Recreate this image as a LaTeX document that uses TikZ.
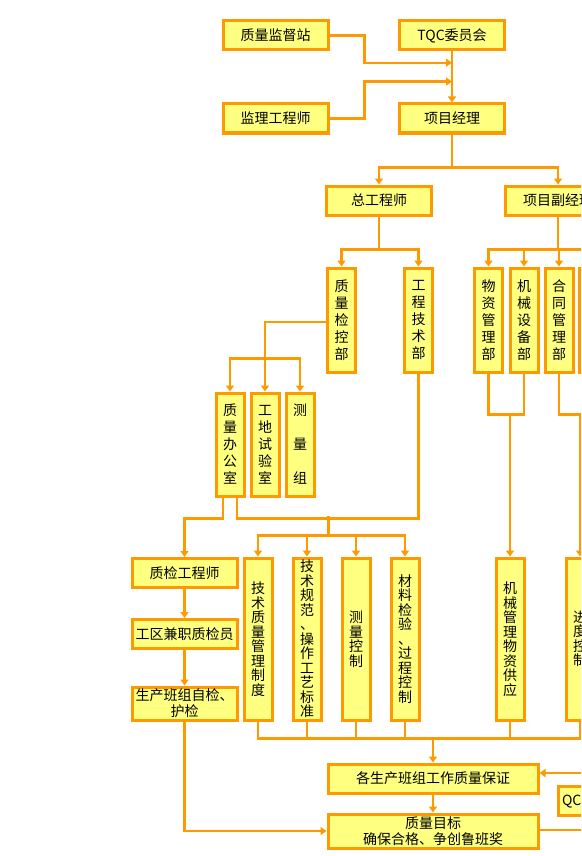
\documentclass[tikz,border=0pt]{standalone}
\usepackage{fontspec}
\newfontfamily\cjk{Noto Sans CJK SC}
\usetikzlibrary{arrows.meta,calc}
\definecolor{cOr}{HTML}{FF9900}
\definecolor{cYe}{HTML}{FFFF80}
\tikzset{
  hbox/.style={draw=cOr,fill=cYe,line width=3pt,minimum width=105pt,
              minimum height=29pt,inner sep=0pt,align=center,
              font=\cjk\fontsize{14}{16}\selectfont},
  vtop/.style={hbox,minimum width=28pt,minimum height=104pt,
              font=\cjk\fontsize{14}{17}\selectfont},
  vbot/.style={hbox,minimum width=28pt,minimum height=162pt,
              font=\cjk\fontsize{14}{14.5}\selectfont},
  link/.style={draw=cOr,line width=2.4pt},
  arr/.style={link,-{Triangle[length=6pt,width=8pt]}},
}

\begin{document}
\begin{tikzpicture}[x=1pt,y=-1pt]
  \useasboundingbox (0,0) rectangle (581,856);
  \clip (0,0) rectangle (581,856);
  % top level
  \node[hbox] (jdz) at (275.5,35.5) {质量监督站};
  \node[hbox] (tqc) at (452,35.5) {TQC委员会};
  \node[hbox] (jl) at (275.5,118.5) {监理工程师};
  \node[hbox] (xm) at (452,118.5) {项目经理};
  \node[hbox] (zgc) at (379,200.5) {总工程师};
  \node[hbox] (fjl) at (558,200.5) {项目副经理};
  % departments
  \node[vtop] (zj) at (341.5,320) {质\\量\\检\\控\\部};
  \node[vtop] (js) at (418.5,320) {工\\程\\技\\术\\部};
  \node[vtop] (wz) at (488.5,320) {物\\资\\管\\理\\部};
  \node[vtop] (jx) at (524,320) {机\\械\\设\\备\\部};
  \node[vtop] (ht) at (559,320) {合\\同\\管\\理\\部};
  \node[vtop] (x4) at (593.5,320) {};
  \node[vtop,minimum height=103pt] (bg) at (230,444.5) {质\\量\\办\\公\\室};
  \node[vtop,minimum height=103pt] (sy) at (265,444.5) {工\\地\\试\\验\\室};
  \node[vtop,minimum height=103pt] (cl) at (300,444.5) {测\\[17pt]量\\[17pt]组};
  % left column
  \node[hbox] (zgs) at (184.5,573) {质检工程师};
  \node[hbox] (jz) at (184.5,634) {工区兼职质检员};
  \node[hbox,minimum height=33pt] (bz) at (184.5,703.5) {生产班组自检、\\护检};
  % bottom rows
  \node[vbot] (zd) at (258,639) {技\\术\\质\\量\\管\\理\\制\\度};
  \node[vbot] (gf) at (307,639) {技\\术\\规\\范\\、\\操\\作\\工\\艺\\标\\准};
  \node[vbot] (ck) at (356,639) {测\\量\\控\\制};
  \node[vbot] (cj) at (405,639) {材\\料\\检\\验\\、\\过\\程\\控\\制};
  \node[vbot] (gy) at (510,639) {机\\械\\管\\理\\物\\资\\供\\应};
  \node[vbot] (jd) at (580,639) {进\\度\\控\\制};
  \node[hbox,minimum width=210pt] (bz2) at (433,778.5) {各生产班组工作质量保证};
  \node[hbox,minimum width=210pt,minimum height=34pt] (mb) at (433,831)
    {质量目标\\确保合格、争创鲁班奖};
  \node[hbox,minimum width=80pt,text width=72pt,align=left] (qc) at (598,800.5) {QC小组};

  % top links
  \draw[arr] (tqc.south) -- (xm.north);
  \draw[arr] (jdz.east) -- ++(35,0) |- ($(tqc.south)!0.22!(xm.north)$);
  \draw[arr] (jl.east) -- ++(35,0) |- ($(tqc.south)!0.59!(xm.north)$);
  \coordinate (j1) at ($(xm.south)+(0,33)$);
  \draw[link] (xm.south) -- (j1);
  \draw[arr] (j1) -| (zgc.north);
  \draw[arr] (j1) -| (fjl.north);
  \coordinate (j2) at ($(zgc.south)+(0,33)$);
  \draw[link] (zgc.south) -- (j2);
  \draw[arr] (j2) -| (zj.north);
  \draw[arr] (j2) -| (js.north);
  \coordinate (j2b) at ($(fjl.south)+(0,33)$);
  \draw[link] (fjl.south) -- (j2b);
  \foreach \n in {wz,jx,ht,x4}{\draw[arr] (j2b) -| (\n.north);}
  % quality inspection branch
  \draw[arr] ([yshift=-2]zj.west) -| (sy.north);
  \coordinate (j3) at ($(sy.north)+(0,-33)$);
  \draw[arr] (j3) -| (bg.north);
  \draw[arr] (j3) -| (cl.north);
  \draw[arr] ([xshift=-7]bg.south) -- ++(0,21) -| (zgs.north);
  \draw[link] ([xshift=7]bg.south) -- ++(0,21) -| (js.south);
  \coordinate (j5) at ($(zd.north)!0.48!(cj.north)+(0,-21)$);
  \draw[link] (j5) -- ++(0,-20);
  \foreach \n in {zd,gf,ck,cj}{\draw[arr] (j5) -| (\n.north);}
  % material / contract
  \coordinate (j6) at ($(wz.south)+(0,41)$);
  \draw[link] (wz.south) -- (j6) -| (jx.south);
  \draw[arr] (j6 -| gy.north) -- (gy.north);
  \draw[arr] (ht.south) -- ++(0,41) -| (jd.north);
  % left column
  \draw[arr] (zgs.south) -- (jz.north);
  \draw[arr] (jz.south) -- (bz.north);
  \draw[arr] (bz.south) |- (mb.west);
  % collect to bottom
  \coordinate (j7) at ($(bz2.north)+(0,-24)$);
  \draw[link] (zd.south) -- (zd.south |- j7) -- (jd.south |- j7) -- (jd.south);
  \foreach \n in {gf,ck,cj,gy}{\draw[link] (\n.south) -- (\n.south |- j7);}
  \draw[arr] (j7) -- (bz2.north);
  \draw[arr] (bz2.south) -- (mb.north);
  \coordinate (qin) at (640,773);
  \coordinate (qout) at (640,830);
  \draw[arr] (qin) -- (bz2.east |- qin);
  \draw[link] (mb.east |- qout) -- (qout);
\end{tikzpicture}
\end{document}
